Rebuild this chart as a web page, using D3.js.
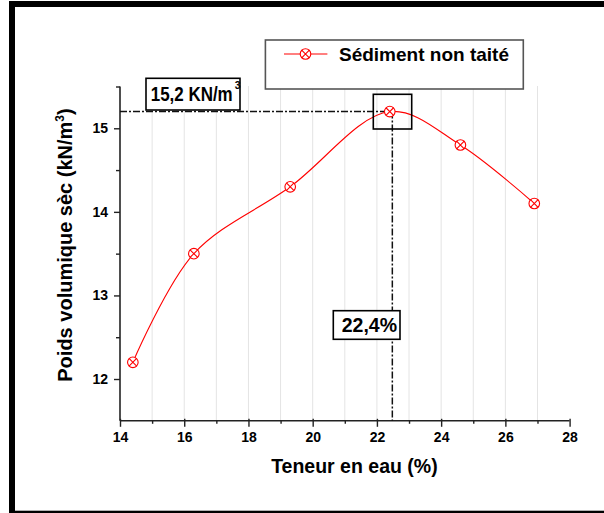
<!DOCTYPE html>
<html><head><meta charset="utf-8">
<script src="https://cdn.jsdelivr.net/npm/d3@7"></script>
<style>
body{margin:0;background:#fff}
svg{display:block}
text{font-family:"Liberation Sans",Arial,sans-serif;font-weight:bold;fill:#000}
</style>
</head><body>
<svg id="c" width="604" height="513"></svg>
<script>
// ---- data ----
const waterContent = [14.4, 16.3, 19.3, 22.4, 24.6, 26.9];
const dryUnitWeight = [12.2, 13.5, 14.3, 15.2, 14.8, 14.1];
const seriesName = "Sédiment non taité";
const xTicks = [14, 16, 18, 20, 22, 24, 26, 28];
const xMinorTicks = [15, 17, 19, 21, 23, 25, 27];
const yTicks = [12, 13, 14, 15];
const yMinorTicks = [12.5, 13.5, 14.5, 15.5];
const gridValues = [15, 16, 17, 18, 19, 20, 21, 22, 23, 24, 25, 26, 27];
const optimumW = 22.48;
const optimumG = 15.2;
const labelG = "15,2 KN/m";
const labelW = "22,4%";
const xTitle = "Teneur en eau (%)";
const yTitle = "Poids volumique sèc (kN/m";

const svg = d3.select("#c");
const x = d3.scaleLinear().domain([14, 28]).range([120, 569.6]);
const y = d3.scaleLinear().domain([11.5, 15.5]).range([420.8, 86.5]);
const pts = waterContent.map((w, i) => ({w, g: dryUnitWeight[i]}));

// frame
svg.append("rect").attr("x", 9).attr("y", 1).attr("width", 600).attr("height", 6).attr("fill", "#000");
svg.append("rect").attr("x", 9).attr("y", 1).attr("width", 6).attr("height", 512).attr("fill", "#000");
svg.append("rect").attr("x", 9).attr("y", 510.7).attr("width", 600).attr("height", 4).attr("fill", "#000");

// grid
svg.append("g").selectAll("line").data(gridValues).join("line")
  .attr("x1", d => x(d)).attr("x2", d => x(d))
  .attr("y1", y(15.5)).attr("y2", y(11.5))
  .attr("stroke", "#c8c8c8").attr("stroke-width", 1).attr("stroke-dasharray", "1,1");

// axes
const xAxis = svg.append("g").attr("transform", `translate(0,${y(11.5)})`)
  .call(d3.axisBottom(x).tickValues(xTicks).tickSize(6).tickPadding(5).tickFormat(d3.format("d")));
xAxis.selectAll(".tick line").attr("y1", -2);
const xMinorAxis = svg.append("g").attr("transform", `translate(0,${y(11.5)})`)
  .call(d3.axisBottom(x).tickValues(xMinorTicks).tickSize(3).tickFormat(""));
xMinorAxis.select(".domain").remove();

const yAxis = svg.append("g").attr("transform", `translate(${x(14)},0)`)
  .call(d3.axisLeft(y).tickValues(yTicks).tickSize(6).tickPadding(6).tickFormat(d3.format("d")));
const yMinorAxis = svg.append("g").attr("transform", `translate(${x(14)},0)`)
  .call(d3.axisLeft(y).tickValues(yMinorTicks).tickSize(4).tickFormat(""));
yMinorAxis.select(".domain").remove();

[xAxis, xMinorAxis, yAxis, yMinorAxis].forEach(g => {
  g.selectAll(".domain").attr("stroke", "#222").attr("stroke-width", 1.6);
  g.selectAll(".tick line").attr("stroke", "#222").attr("stroke-width", 1.4);
  g.selectAll("text").attr("font-size", 14).attr("font-family", '"Liberation Sans",Arial,sans-serif').attr("font-weight", "bold").attr("fill", "#000");
});
xAxis.select(".domain").attr("d", `M${x(14)},0H${x(28)}`);
yAxis.select(".domain").attr("d", `M0,${y(15.5)}V${y(11.5)}`);

// reference lines (dash-dot)
svg.append("line")
  .attr("x1", x(14)).attr("x2", x(optimumW)).attr("y1", y(optimumG)).attr("y2", y(optimumG))
  .attr("stroke", "#111").attr("stroke-width", 1.5).attr("stroke-dasharray", "7,2,2,2");
svg.append("line")
  .attr("x1", x(optimumW)).attr("x2", x(optimumW)).attr("y1", y(optimumG)).attr("y2", y(11.5))
  .attr("stroke", "#111").attr("stroke-width", 1.5).attr("stroke-dasharray", "7,2,2,2");

// curve
const line = d3.line().x(d => x(d.w)).y(d => y(d.g)).curve(d3.curveCatmullRom.alpha(0.5));
svg.append("path").datum(pts).attr("d", line)
  .attr("fill", "none").attr("stroke", "#ff0000").attr("stroke-width", 1.1);

// marker
function marker(g, cx, cy) {
  const r = 5.3, k = r * 0.72;
  g.append("circle").attr("cx", cx).attr("cy", cy).attr("r", r)
    .attr("fill", "#fff").attr("stroke", "#ff0000").attr("stroke-width", 1.1);
  g.append("path").attr("d", `M${cx-k},${cy-k}L${cx+k},${cy+k}M${cx+k},${cy-k}L${cx-k},${cy+k}`)
    .attr("stroke", "#ff0000").attr("stroke-width", 1.1);
}
const mg = svg.append("g");
pts.forEach(p => marker(mg, x(p.w), y(p.g)));

// peak box
svg.append("rect").attr("x", 373.3).attr("y", 94.3).attr("width", 38.4).attr("height", 34.7)
  .attr("fill", "none").attr("stroke", "#000").attr("stroke-width", 1.6);

// annotation: 15,2 KN/m3
svg.append("rect").attr("x", 146).attr("y", 78.3).attr("width", 94).attr("height", 31.7)
  .attr("fill", "#fff").attr("stroke", "#000").attr("stroke-width", 1.6);
svg.append("text").attr("transform", "translate(150.7,100.7) scale(0.87,1)")
  .attr("font-size", 19.5).text(labelG);
svg.append("text").attr("x", 234.8).attr("y", 89).attr("font-size", 10.5).text("3");

// annotation: 22,4%
svg.append("rect").attr("x", 333.3).attr("y", 310.7).attr("width", 66.7).attr("height", 28.6)
  .attr("fill", "#fff").attr("stroke", "#000").attr("stroke-width", 1.6);
svg.append("text").attr("x", 341.7).attr("y", 332.3).attr("font-size", 19.5).text(labelW);

// legend
svg.append("rect").attr("x", 265.4).attr("y", 40).attr("width", 257.9).attr("height", 49)
  .attr("fill", "#fff").attr("stroke", "#555").attr("stroke-width", 1.6);
svg.append("line").attr("x1", 284).attr("x2", 327.4).attr("y1", 54).attr("y2", 54)
  .attr("stroke", "#ff0000").attr("stroke-width", 1.1);
marker(svg.append("g"), 305.5, 54);
svg.append("text").attr("x", 339).attr("y", 61).attr("font-size", 19).text(seriesName);

// axis titles
svg.append("text").attr("x", 354.4).attr("y", 472.7).attr("font-size", 19.5)
  .attr("text-anchor", "middle").text(xTitle);
const yt = svg.append("text").attr("transform", "translate(72,245) rotate(-90)")
  .attr("text-anchor", "middle").attr("font-size", 20);
yt.append("tspan").text(yTitle);
yt.append("tspan").attr("dy", -8).attr("font-size", 12).text("3");
yt.append("tspan").attr("dy", 8).text(")");
</script>
</body></html>
